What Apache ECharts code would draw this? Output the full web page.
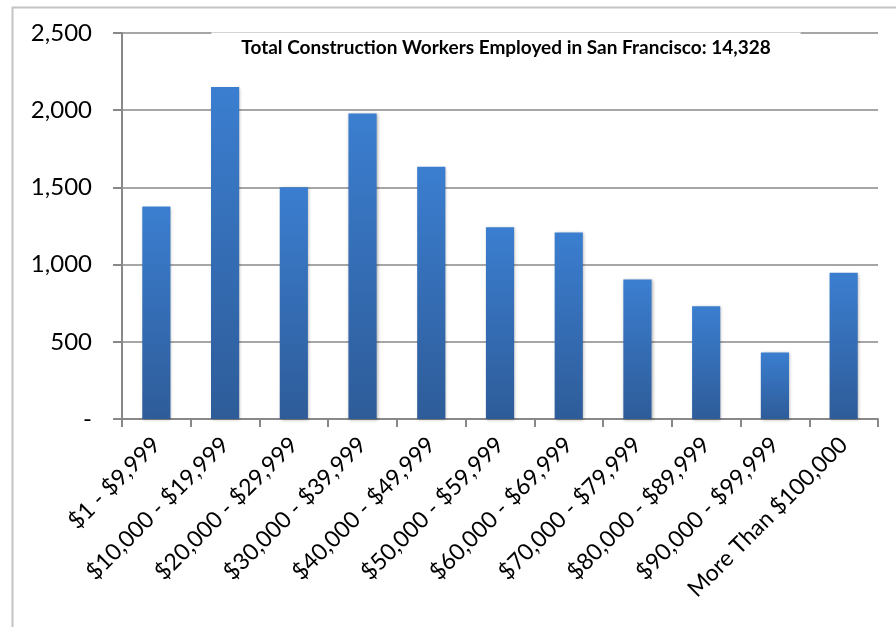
<!DOCTYPE html>
<html>
<head>
<meta charset="utf-8">
<script src="https://cdn.jsdelivr.net/npm/echarts@6/dist/echarts.min.js"></script>
<style>
html,body{margin:0;padding:0;background:#fff;}
#c{width:896px;height:627px;}
</style>
</head>
<body>
<div id="c"></div>
<script>
const categories = ["$1 - $9,999","$10,000 - $19,999","$20,000 - $29,999","$30,000 - $39,999","$40,000 - $49,999","$50,000 - $59,999","$60,000 - $69,999","$70,000 - $79,999","$80,000 - $89,999","$90,000 - $99,999","More Than $100,000"];
const workers = [1376, 2151, 1501, 1979, 1634, 1242, 1208, 904, 730, 431, 948];
const titleText = "Total Construction Workers Employed in San Francisco: 14,328";
const yTicks = {0:"-",500:"500",1000:"1,000",1500:"1,500",2000:"2,000",2500:"2,500"};

const FONT = "Lato, 'Open Sans', sans-serif";
const chart = echarts.init(document.getElementById('c'), null, {renderer:'canvas'});
chart.setOption({
  animation:false,
  backgroundColor:'#fff',
  graphic:[{
    type:'rect', left:10, top:5, z:-10,
    shape:{width:900, height:640},
    style:{fill:'none', stroke:'#c4c4c4', lineWidth:2}
  }],
  title:{
    text:titleText,
    left:476, top:42, textAlign:'center', textVerticalAlign:'middle',
    backgroundColor:'#fff',
    padding:[6,30],
    textStyle:{fontFamily:FONT, fontWeight:'bold', fontSize:19, color:'#000'}
  },
  grid:{left:122, right:18, top:33, bottom:208, containLabel:false},
  xAxis:{
    type:'category', data:categories,
    axisLine:{lineStyle:{color:'#888', width:2}},
    axisTick:{show:true, length:8, lineStyle:{color:'#888', width:2}},
    axisLabel:{rotate:45, margin:22, interval:0, fontFamily:FONT, fontSize:23, color:'#000'}
  },
  yAxis:{
    type:'value', min:0, max:2500, interval:500,
    axisLine:{show:true, lineStyle:{color:'#888', width:2}},
    axisTick:{show:true, length:9, lineStyle:{color:'#888', width:2}},
    splitLine:{lineStyle:{color:'#888', width:1.5}},
    axisLabel:{margin:30, fontFamily:FONT, fontSize:24, color:'#000',
      formatter:function(v){return yTicks[v] !== undefined ? yTicks[v] : v;}}
  },
  series:[{
    type:'bar', data:workers, barWidth:'41%',
    itemStyle:{
      color:new echarts.graphic.LinearGradient(0,0,0,1,[
        {offset:0,color:'#3b7ed0'},{offset:1,color:'#2e5c99'}
      ]),
      shadowBlur:3, shadowColor:'rgba(0,0,0,0.3)', shadowOffsetX:1, shadowOffsetY:1
    }
  }]
});
</script>
</body>
</html>
